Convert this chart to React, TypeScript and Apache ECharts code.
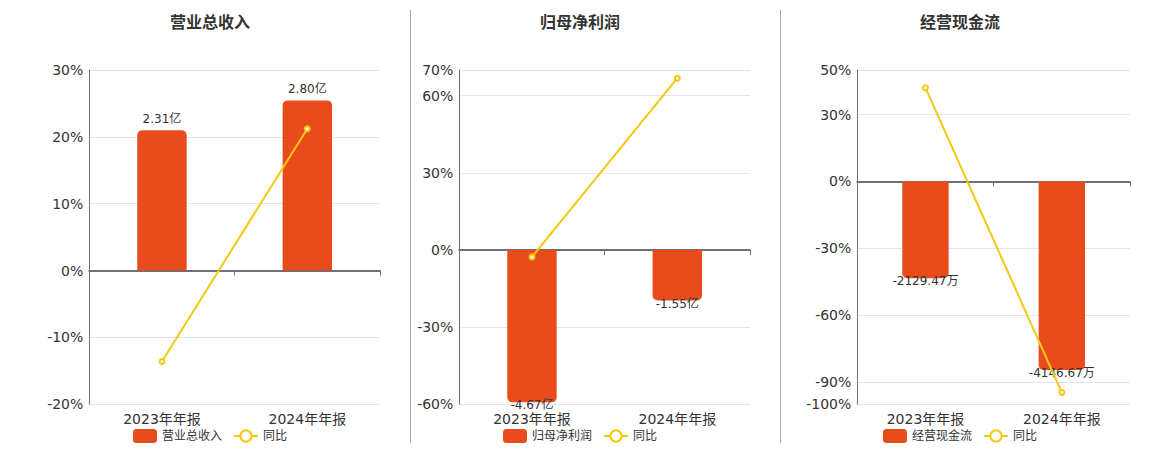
import React, { useEffect, useRef } from "react";
import * as echarts from "echarts";

const CATEGORIES = ["2023年年报", "2024年年报"];
const TITLES = ["营业总收入", "归母净利润", "经营现金流"];
const UNITS = ["亿", "亿", "万"];

const REVENUE = [2.31, 2.8];
const REVENUE_YOY = [-13.6, 21.2];
const PROFIT = [-4.67, -1.55];
const PROFIT_YOY = [-2.7, 66.8];
const CASHFLOW = [-2129.47, -4146.67];
const CASHFLOW_YOY = [42.0, -94.7];

const PCT_MIN = [-20, -60, -100];
const PCT_MAX = [30, 70, 50];
const PCT_INTERVAL = [10, 30, 30];
const CASHFLOW_TICKS = [-100, -90, -60, -30, 0, 30, 50];
const BAR_MIN = [-2.2, -4.73, -4900];
const BAR_MAX = [3.3, 5.52, 2450];

const BAR_COLOR = "#e84c1d";
const LINE_COLOR = "#f3c90f";
const FONT = '"DejaVu Sans", "Noto Sans CJK SC", sans-serif';

const GRIDS = [
  { left: 89.3, width: 290.7 },
  { left: 459.3, width: 290.7 },
  { left: 857.3, width: 272.7 },
];
const CENTERS = [210, 580, 960];
const LEGEND_LEFT = [133, 503, 883];

export default function App() {
  const ref = useRef<HTMLDivElement>(null);
  useEffect(() => {
    if (!ref.current) return;
    const chart = echarts.init(ref.current, null, { renderer: "svg" });
    const bars = [REVENUE, PROFIT, CASHFLOW];
    const yoys = [REVENUE_YOY, PROFIT_YOY, CASHFLOW_YOY];

    const grid: any[] = [];
    const xAxis: any[] = [];
    const yAxis: any[] = [];
    const series: any[] = [];
    const legend: any[] = [];
    const graphic: any[] = [];

    for (let i = 0; i < 3; i++) {
      grid.push({ left: GRIDS[i].left, width: GRIDS[i].width, top: 70, height: 334.3 });
      xAxis.push({
        type: "category",
        gridIndex: i,
        position: "bottom",
        data: CATEGORIES,
        axisLine: { show: false, onZero: false },
        axisTick: { show: false },
        axisLabel: { fontSize: 14, color: "#333", fontFamily: FONT, margin: 8 },
      });
      xAxis.push({
        type: "category",
        gridIndex: i,
        position: "bottom",
        data: CATEGORIES,
        axisLine: { show: true, onZero: true, lineStyle: { color: "#6E7079", width: 2 } },
        axisTick: { show: true, length: 5, lineStyle: { color: "#6E7079" } },
        axisLabel: { show: false },
      });
      const custom = i === 2;
      const pctAxis: any = {
        type: "value",
        gridIndex: i,
        position: "left",
        min: PCT_MIN[i],
        max: PCT_MAX[i],
        axisLine: { show: true, lineStyle: { color: "#6E7079", width: 1 } },
        axisTick: { show: false },
        axisLabel: { fontSize: 14, color: "#333", fontFamily: FONT, margin: 6, formatter: "{value}%" },
        splitLine: { show: true, lineStyle: { color: "#E0E6F1" } },
      };
      if (custom) {
        pctAxis.axisTick.customValues = CASHFLOW_TICKS;
        pctAxis.axisLabel.customValues = CASHFLOW_TICKS;
      } else {
        pctAxis.interval = PCT_INTERVAL[i];
      }
      yAxis.push(pctAxis);
      yAxis.push({
        type: "value",
        gridIndex: i,
        position: "right",
        min: BAR_MIN[i],
        max: BAR_MAX[i],
        show: false,
        splitLine: { show: false },
      });
      const neg = bars[i][0] < 0;
      series.push({
        type: "bar",
        name: TITLES[i],
        xAxisIndex: i * 2,
        yAxisIndex: i * 2 + 1,
        data: bars[i],
        barWidth: "34%",
        itemStyle: { color: BAR_COLOR, borderRadius: neg ? [0, 0, 5, 5] : [5, 5, 0, 0] },
        label: {
          show: true,
          position: neg ? "bottom" : "top",
          distance: neg ? -3 : 5,
          fontSize: 12,
          color: "#333",
          fontFamily: FONT,
          formatter: (p: any) => p.value.toFixed(2) + UNITS[i],
        },
      });
      series.push({
        type: "line",
        name: "同比",
        xAxisIndex: i * 2,
        yAxisIndex: i * 2,
        data: yoys[i],
        symbol: "emptyCircle",
        symbolSize: 5,
        lineStyle: { color: LINE_COLOR, width: 2 },
        itemStyle: { color: LINE_COLOR },
        z: 5,
      });
      legend.push({
        left: LEGEND_LEFT[i],
        top: 429,
        padding: 0,
        itemWidth: 24,
        itemHeight: 14,
        itemGap: 11,
        textStyle: { fontSize: 12, color: "#333", fontFamily: FONT },
        data: [TITLES[i], "同比"],
      });
      graphic.push({
        type: "text",
        x: CENTERS[i],
        y: 22.5,
        style: {
          text: TITLES[i],
          align: "center",
          verticalAlign: "middle",
          fontSize: 16,
          fontWeight: "bold",
          fontFamily: FONT,
          fill: "#333",
        },
      });
    }
    graphic.push({ type: "line", shape: { x1: 410.5, y1: 10, x2: 410.5, y2: 443 }, style: { stroke: "#aaa9a2", lineWidth: 1 } });
    graphic.push({ type: "line", shape: { x1: 780.5, y1: 10, x2: 780.5, y2: 443 }, style: { stroke: "#aaa9a2", lineWidth: 1 } });

    chart.setOption({
      animation: false,
      textStyle: { fontFamily: FONT },
      grid,
      xAxis,
      yAxis,
      series,
      legend,
      graphic,
    });
    return () => chart.dispose();
  }, []);
  return (
    <div
      ref={ref}
      style={{ position: "absolute", left: 0, top: 0, width: 1160, height: 450, background: "#fff" }}
    />
  );
}
